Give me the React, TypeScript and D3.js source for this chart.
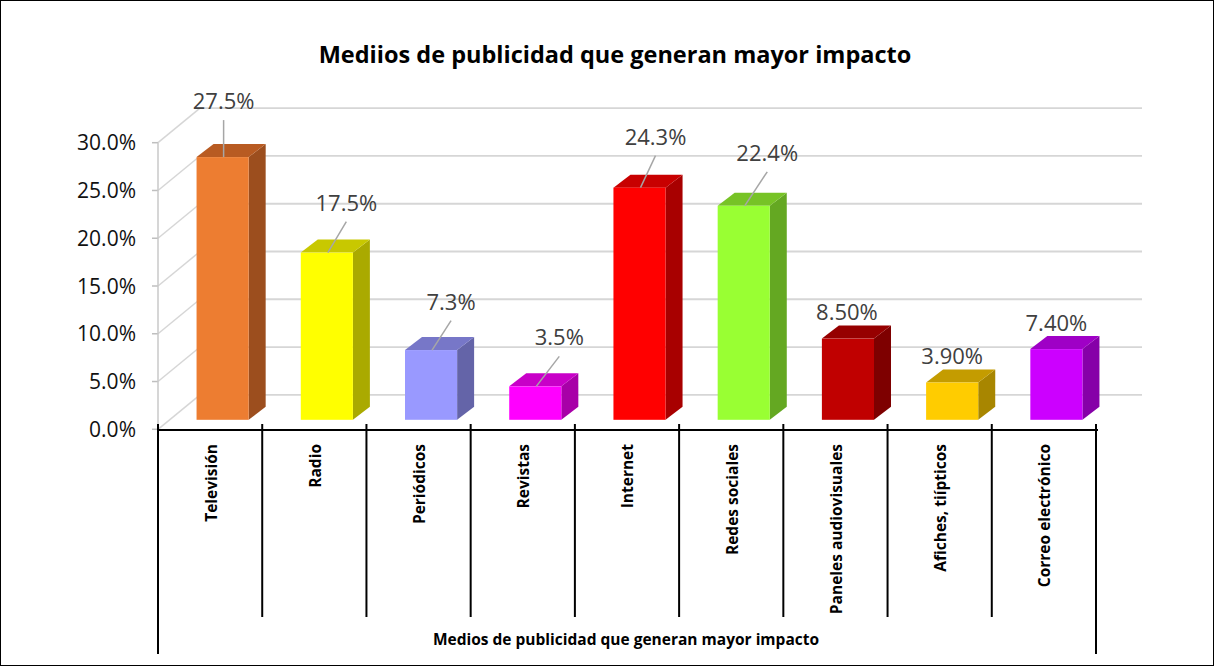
import React from "react";
import * as d3 from "d3";

const categories = [
  "Televisión",
  "Radio",
  "Periódicos",
  "Revistas",
  "Internet",
  "Redes sociales",
  "Paneles audiovisuales",
  "Afiches, tiípticos",
  "Correo electrónico",
];
const values = [27.5, 17.5, 7.3, 3.5, 24.3, 22.4, 8.5, 3.9, 7.4];
const valueLabels = ["27.5%", "17.5%", "7.3%", "3.5%", "24.3%", "22.4%", "8.50%", "3.90%", "7.40%"];
const yTicks = [0, 5, 10, 15, 20, 25, 30];
const title = "Mediios de publicidad que generan mayor impacto";
const axisTitle = "Medios de publicidad que generan mayor impacto";

// colours: front, side, top
const frontColors = ["#ED7D31", "#FFFF00", "#9999FF", "#FF00FF", "#FF0000", "#99FF33", "#C00000", "#FFCC00", "#CC00FF"];
const sideColors = ["#9C4E1E", "#AAAA00", "#6464A8", "#A800A8", "#A80000", "#64A822", "#7E0000", "#A88600", "#8600A8"];
const topColors = ["#B85B22", "#C8C800", "#7777C8", "#C800C8", "#C80000", "#77C326", "#960000", "#C49C00", "#9F00C6"];

// layout for data labels: [dx from bar centre, baseline offset from bar top, leader]
const labelLayout: [number, number, boolean][] = [
  [1, -48, true],
  [19.5, -42, true],
  [20, -40.5, true],
  [24, -41, true],
  [16, -43, true],
  [23.5, -45, true],
  [-1, -19, false],
  [0, -19, false],
  [0, -18, false],
];

const W = 1215;
const H = 667;
const FONT = "'Open Sans', 'Noto Sans', sans-serif";

export default function App() {
  const x = d3.scaleBand<string>().domain(categories).range([158, 1096]).padding(0);
  const y = d3.scaleLinear().domain([0, 30]).range([429.3, 142.7]);
  const bw = x.bandwidth();
  const back = { dx: 42, dy: -34.5 };
  const barOff = { dx: 12.5, dy: -9.5 };
  const depth = { dx: 17, dy: -13 };
  const barW = bw * 0.5;

  return (
    <svg
      width={W}
      height={H}
      style={{ position: "fixed", left: 0, top: 0, background: "#fff" }}
      fontFamily={FONT}
    >
      <rect x={0.5} y={0.5} width={W - 2} height={H - 2} fill="#fff" stroke="#000" strokeWidth={1} />
      <text x={615} y={63} textAnchor="middle" fontSize={23.5} fontWeight="bold" fill="#000">
        {title}
      </text>

      {/* back gridlines and side wall */}
      {yTicks.map((t) => (
        <g key={"g" + t}>
          <line
            x1={158 + back.dx}
            x2={1142}
            y1={y(t) + back.dy}
            y2={y(t) + back.dy}
            stroke="#d6d6d6"
            strokeWidth={1.8}
          />
          <line
            x1={158}
            x2={158 + back.dx}
            y1={y(t)}
            y2={y(t) + back.dy}
            stroke="#d6d6d6"
            strokeWidth={1.5}
          />
          <line x1={152} x2={158} y1={y(t)} y2={y(t)} stroke="#bfbfbf" strokeWidth={1.5} />
          <text x={136} y={y(t)} dy="0.36em" textAnchor="end" fontSize={21} fill="#111">
            {t.toFixed(1) + "%"}
          </text>
        </g>
      ))}
      <line x1={158} x2={158} y1={y(30)} y2={y(0)} stroke="#c8c8c8" strokeWidth={1.5} />

      {/* bars */}
      {categories.map((c, i) => {
        const cx = (x(c) as number) + bw / 2 + barOff.dx;
        const x0 = cx - barW / 2;
        const x1 = cx + barW / 2;
        const yb = y(0) + barOff.dy;
        const yt = y(values[i]) + barOff.dy;
        const side = [
          [x1, yt],
          [x1 + depth.dx, yt + depth.dy],
          [x1 + depth.dx, yb + depth.dy],
          [x1, yb],
        ];
        const top = [
          [x0, yt],
          [x0 + depth.dx, yt + depth.dy],
          [x1 + depth.dx, yt + depth.dy],
          [x1, yt],
        ];
        const [ldx, ldy, leader] = labelLayout[i];
        const lx = cx + ldx;
        const ly = yt + ldy;
        return (
          <g key={c}>
            <polygon points={side.map((p) => p.join(",")).join(" ")} fill={sideColors[i]} />
            <polygon points={top.map((p) => p.join(",")).join(" ")} fill={topColors[i]} />
            <rect x={x0} y={yt} width={barW} height={yb - yt} fill={frontColors[i]} />
            {leader && (
              <line x1={lx} y1={ly + 11} x2={cx + 1} y2={yt} stroke="#a6a6a6" strokeWidth={1.5} />
            )}
            <text x={lx} y={ly} textAnchor="middle" fontSize={22} fill="#404040">
              {valueLabels[i]}
            </text>
          </g>
        );
      })}

      {/* category axis */}
      <line x1={157} x2={1098} y1={430} y2={430} stroke="#000" strokeWidth={2} />
      {d3.range(categories.length + 1).map((k) => {
        const xx = 158 + k * bw;
        const outer = k === 0 || k === categories.length;
        return (
          <line key={"t" + k} x1={xx} x2={xx} y1={424} y2={outer ? 654 : 617} stroke="#000" strokeWidth={2} />
        );
      })}
      {categories.map((c) => {
        const cx = (x(c) as number) + bw / 2 + 1;
        return (
          <text
            key={"l" + c}
            transform={`translate(${cx},444) rotate(-90)`}
            textAnchor="end"
            dy="0.35em"
            fontSize={15.5}
            fontWeight="bold"
            fill="#000"
          >
            {c}
          </text>
        );
      })}
      <text x={626} y={645} textAnchor="middle" fontSize={15.5} fontWeight="bold" fill="#000">
        {axisTitle}
      </text>
    </svg>
  );
}
